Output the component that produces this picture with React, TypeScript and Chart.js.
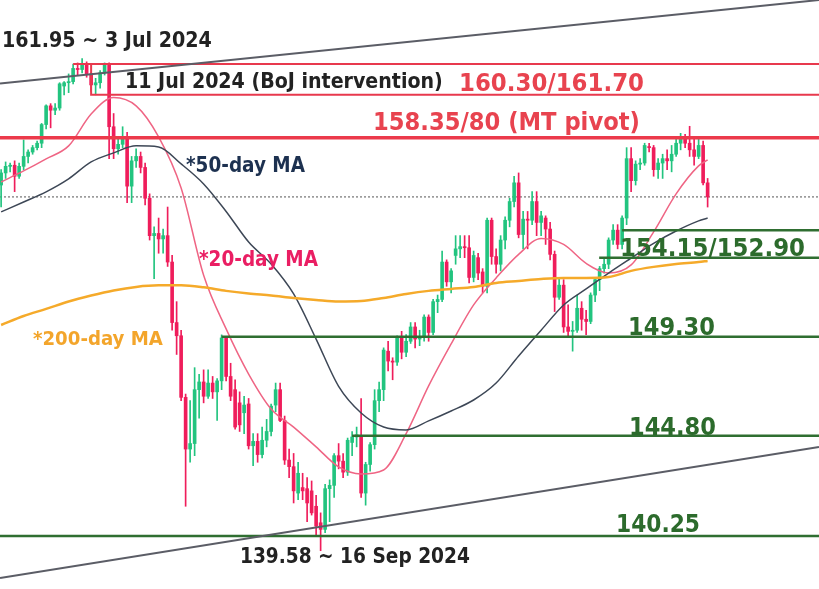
import React, { useEffect, useRef } from 'react';
import { Chart, registerables } from 'chart.js';

Chart.register(...registerables);

// ---- categories (trading days, 7 Jun 2024 – 16 Jan 2025) ----
const MONTH_DAYS: [string, number[]][] = [
  ['Jun', [7, 10, 11, 12, 13, 14, 17, 18, 19, 20, 21, 24, 25, 26, 27, 28]],
  ['Jul', [1, 2, 3, 4, 5, 8, 9, 10, 11, 12, 15, 16, 17, 18, 19, 22, 23, 24, 25, 26, 29, 30, 31]],
  ['Aug', [1, 2, 5, 6, 7, 8, 9, 12, 13, 14, 15, 16, 19, 20, 21, 22, 23, 26, 27, 28, 29, 30]],
  ['Sep', [2, 3, 4, 5, 6, 9, 10, 11, 12, 13, 16, 17, 18, 19, 20, 23, 24, 25, 26, 27, 30]],
  ['Oct', [1, 2, 3, 4, 7, 8, 9, 10, 11, 14, 15, 16, 17, 18, 21, 22, 23, 24, 25, 28, 29, 30, 31]],
  ['Nov', [1, 4, 5, 6, 7, 8, 11, 12, 13, 14, 15, 18, 19, 20, 21, 22, 25, 26, 27, 28, 29]],
  ['Dec', [2, 3, 4, 5, 6, 9, 10, 11, 12, 13, 16, 17, 18, 19, 20, 23, 24, 26, 27, 30, 31]],
  ['Jan', [2, 3, 6, 7, 8, 9, 10, 13, 14, 15, 16]],
];
const DATES: string[] = MONTH_DAYS.flatMap(([m, ds]) => ds.map((d) => `${d} ${m}`));

// ---- OHLC (USD/JPY daily) ----
const OPEN = [
  156.2, 156.75, 157.05, 157.1, 156.6, 157.05, 157.5, 157.7, 157.9, 158.1, 158.95, 159.8, 159.6, 159.7, 160.7, 160.85,
  160.9, 161.5, 161.45, 161.7, 161.25, 160.75, 160.85, 161.3, 161.65, 158.85, 157.85, 158.05, 158.35, 156.15, 157.3, 157.5,
  157.0, 155.6, 153.9, 154.0, 153.75, 153.9, 152.7,
  149.95, 149.35, 146.55, 144.2, 144.45, 146.9, 147.25, 146.6, 147.2, 146.8, 147.3, 149.25, 147.5, 146.9, 146.3, 145.85,
  146.25, 144.35, 144.55, 143.95, 144.6, 145.0,
  146.2, 146.9, 145.5, 143.7, 143.4, 142.2, 142.45, 142.4, 142.3, 141.6, 140.85, 140.55, 142.4, 142.55, 143.9, 143.65,
  143.15, 144.5, 144.75, 144.8, 142.2,
  143.5, 144.4, 146.4, 146.9, 148.65, 148.2, 148.15, 149.3, 148.6, 149.1, 149.75, 149.2, 149.3, 150.2, 149.5, 150.9,
  151.0, 152.7, 151.8, 153.0, 153.3, 153.4, 153.35,
  152.0, 152.9, 152.25, 151.6, 154.6, 152.95, 152.6, 153.7, 154.6, 155.45, 156.3, 153.95, 154.65, 154.6, 155.45, 154.5,
  154.7, 154.2, 153.05, 151.1, 151.65,
  149.75, 149.55, 149.6, 150.6, 150.1, 150.0, 151.2, 151.9, 152.4, 152.6, 153.7, 154.15, 153.5, 154.7, 157.4, 156.4,
  157.15, 157.2, 157.95, 157.9, 156.9,
  157.2, 157.4, 157.3, 157.6, 158.1, 158.4, 158.1, 157.8, 157.5, 158.0, 156.3,
];
const HIGH = [
  156.9, 157.25, 157.2, 157.3, 157.2, 158.25, 157.8, 158.0, 158.2, 159.0, 159.85, 159.9, 159.9, 160.85, 160.9, 161.25,
  161.7, 161.75, 161.95, 161.8, 161.3, 161.05, 161.4, 161.75, 161.75, 159.45, 158.4, 158.85, 158.6, 157.5, 157.85, 157.7,
  157.2, 155.8, 154.3, 154.7, 154.2, 155.2, 153.0,
  150.9, 149.6, 146.7, 146.4, 147.9, 147.6, 147.8, 147.8, 147.5, 147.4, 149.39, 149.3, 148.1, 147.35, 146.8, 146.6,
  146.5, 144.9, 144.9, 145.2, 145.55, 146.25,
  147.2, 147.2, 145.7, 144.2, 144.0, 143.6, 143.1, 142.9, 142.75, 142.1, 141.3, 142.6, 142.8, 144.0, 144.45, 144.0,
  144.7, 145.0, 145.2, 146.5, 143.6,
  144.5, 146.9, 147.25, 148.8, 149.1, 148.35, 149.35, 149.55, 149.4, 149.95, 149.95, 149.6, 150.3, 150.3, 151.0, 151.2,
  153.2, 152.8, 152.4, 153.9, 153.9, 153.9, 153.9,
  153.2, 153.1, 152.4, 154.7, 154.7, 153.3, 153.9, 154.75, 155.6, 156.6, 156.75, 155.0, 155.0, 155.9, 155.9, 155.0,
  154.8, 154.5, 153.2, 152.0, 151.9,
  150.75, 150.0, 151.2, 150.9, 150.5, 151.3, 152.0, 152.5, 152.9, 153.8, 154.4, 154.4, 154.8, 157.9, 157.9, 157.3,
  157.4, 158.1, 158.1, 158.0, 157.4,
  157.6, 157.8, 158.0, 158.4, 158.55, 158.5, 158.87, 158.3, 158.3, 158.2, 156.5,
];
const LOW = [
  155.2, 156.5, 156.8, 155.9, 156.5, 156.9, 157.2, 157.6, 157.8, 157.9, 158.75, 158.8, 159.4, 159.6, 160.3, 160.4,
  160.8, 161.2, 161.3, 161.1, 160.45, 160.3, 160.6, 161.2, 157.4, 157.4, 157.6, 157.9, 155.4, 155.4, 157.0, 156.75,
  155.3, 153.7, 151.95, 153.1, 153.1, 152.5, 149.6,
  148.5, 146.4, 141.6, 143.6, 143.9, 145.6, 146.3, 146.5, 146.5, 145.5, 146.9, 147.3, 146.4, 145.1, 145.0, 144.9,
  144.2, 143.45, 143.6, 143.8, 144.3, 144.8,
  145.9, 145.45, 143.5, 142.9, 141.75, 141.9, 141.9, 140.9, 141.2, 140.3, 139.58, 140.4, 140.9, 142.0, 143.3, 142.9,
  143.0, 143.9, 144.3, 142.0, 141.65,
  143.2, 144.2, 145.9, 146.4, 147.75, 147.35, 148.0, 148.3, 148.4, 149.0, 148.8, 148.9, 149.1, 149.1, 149.4, 150.4,
  150.9, 151.6, 151.3, 152.6, 152.9, 152.9, 151.75,
  151.8, 151.9, 151.3, 151.3, 152.6, 152.2, 152.3, 153.3, 154.3, 155.2, 153.8, 153.3, 153.3, 154.4, 153.9, 153.9,
  153.5, 152.8, 150.45, 151.0, 149.5,
  149.3, 148.65, 149.5, 149.6, 149.4, 149.9, 150.9, 151.4, 152.2, 152.4, 153.5, 153.3, 153.3, 154.4, 155.9, 156.2,
  156.9, 157.1, 157.7, 156.6, 156.5,
  156.5, 156.9, 156.8, 157.5, 157.8, 157.9, 157.5, 157.1, 157.4, 156.2, 155.2,
];
const CLOSE = [
  156.75, 157.05, 157.1, 156.6, 157.05, 157.5, 157.7, 157.9, 158.1, 158.95, 159.8, 159.6, 159.7, 160.8, 160.85, 160.9,
  161.5, 161.45, 161.7, 161.25, 160.75, 160.85, 161.3, 161.65, 158.85, 157.85, 158.05, 158.35, 156.15, 157.3, 157.5, 157.0,
  155.6, 153.9, 154.0, 153.75, 153.9, 152.7, 149.95,
  149.35, 146.55, 144.2, 144.45, 146.9, 147.25, 146.6, 147.2, 146.8, 147.3, 149.25, 147.5, 146.6, 145.2, 145.3, 146.2,
  144.35, 144.55, 143.95, 144.6, 145.0, 146.15,
  146.9, 145.5, 143.7, 143.4, 142.3, 143.1, 142.3, 141.75, 141.3, 140.7, 140.55, 142.4, 142.55, 143.9, 143.65, 143.15,
  144.6, 144.75, 144.85, 142.2, 143.5,
  144.4, 146.4, 146.9, 148.7, 148.2, 148.15, 149.3, 148.6, 149.1, 149.75, 149.2, 149.3, 150.2, 149.5, 150.9, 151.0,
  152.7, 151.8, 152.3, 153.3, 153.4, 153.35, 152.0,
  153.0, 152.2, 151.6, 154.6, 152.95, 152.6, 153.7, 154.6, 155.45, 156.3, 153.95, 154.65, 154.6, 155.45, 154.5, 154.8,
  154.2, 153.05, 151.1, 151.65, 149.75,
  149.55, 149.6, 150.6, 150.1, 150.0, 151.2, 151.9, 152.4, 152.6, 153.7, 154.15, 153.5, 154.7, 157.4, 156.4, 157.15,
  157.2, 158.0, 157.9, 156.9, 157.2,
  157.4, 157.3, 157.6, 158.1, 158.4, 158.1, 157.8, 157.5, 158.0, 156.3, 155.66,
];

// ---- moving averages, read at these candle indices ----
const MA_INDEX = [0, 5, 10, 15, 20, 25, 30, 35, 40, 45, 50, 55, 60, 65, 70, 75, 80, 85, 90, 95, 100, 105, 110, 115, 120, 125, 130, 135, 140, 145, 150, 155, 157];
const MA20 = [156.34, 156.84, 157.39, 157.98, 159.43, 160.18, 159.8, 158.39, 156.07, 152.1, 149.66, 147.61, 146.02, 145.2, 144.3, 143.39, 143.07, 143.25, 144.9, 147.07, 148.98, 150.75, 151.98, 153.05, 153.77, 153.5, 152.64, 152.2, 152.57, 154.07, 155.8, 157.07, 157.34];
const MA50 = [154.98, 155.43, 155.89, 156.48, 157.25, 157.66, 157.98, 157.93, 157.16, 156.25, 155.0, 153.61, 152.61, 151.25, 149.2, 147.05, 145.84, 145.2, 145.07, 145.48, 145.93, 146.43, 147.2, 148.43, 149.6, 150.75, 151.48, 152.2, 152.88, 153.55, 154.11, 154.57, 154.7];
const MA200 = [149.84, 150.25, 150.57, 150.91, 151.18, 151.41, 151.57, 151.64, 151.64, 151.55, 151.39, 151.27, 151.18, 151.07, 150.98, 150.91, 150.93, 151.07, 151.25, 151.39, 151.48, 151.57, 151.75, 151.84, 151.93, 151.98, 151.98, 152.02, 152.3, 152.48, 152.61, 152.7, 152.75];

// ---- horizontal levels ----
const RED_LEVELS = [161.7, 160.3, 158.35];
const RED_LEVEL_START = [16, 20, -0.25];
const GREEN_LEVELS = [154.15, 152.9, 149.3, 144.8, 140.25];
const GREEN_LEVEL_START = [138, 132.9, 49, 78, -0.25];
const LAST_PRICE = 155.66;

// ---- trend channel (value at left / right edge) ----
const CHANNEL_UPPER = [160.82, 164.61];
const CHANNEL_LOWER = [138.34, 144.3];

// ---- axis ranges ----
const X_MIN = -0.25;
const X_MAX = 181.75;
const Y_MIN = 137.84;
const Y_MAX = 164.61;

const FONT = '"DejaVu Sans Condensed", "DejaVu Sans", sans-serif';

type Label = { text: string; i: number; p: number; w: number; color: string };
const LABELS: Label[] = [
  { text: '161.95 ~ 3 Jul 2024', i: 0.19, p: 162.48, w: 210, color: '#222222' },
  { text: '11 Jul 2024 (BoJ intervention)', i: 27.53, p: 160.61, w: 318, color: '#222222' },
  { text: '160.30/161.70', i: 101.75, p: 160.48, w: 185, color: '#e8434f' },
  { text: '158.35/80 (MT pivot)', i: 82.64, p: 158.7, w: 267, color: '#e8434f' },
  { text: '*50-day MA', i: 41.08, p: 156.8, w: 119, color: '#1d3150' },
  { text: '*20-day MA', i: 43.97, p: 152.52, w: 119, color: '#ea1e63' },
  { text: '*200-day MA', i: 7.08, p: 148.93, w: 130, color: '#f3a52b' },
  { text: '154.15/152.90', i: 137.53, p: 152.98, w: 185, color: '#2c6b2c' },
  { text: '149.30', i: 139.31, p: 149.39, w: 87, color: '#2c6b2c' },
  { text: '144.80', i: 139.53, p: 144.84, w: 87, color: '#2c6b2c' },
  { text: '140.25', i: 136.64, p: 140.43, w: 84, color: '#2c6b2c' },
  { text: '139.58 ~ 16 Sep 2024', i: 53.08, p: 139.02, w: 230, color: '#222222' },
];

const UP = '#22c47f';
const DOWN = '#ef1d5b';

const labelPlugin = {
  id: 'textLabels',
  afterDatasetsDraw(chart: any) {
    const { ctx, scales } = chart;
    const xs = scales.x;
    const ys = scales.y;
    LABELS.forEach((l) => {
      ctx.save();
      ctx.font = `bold 20px ${FONT}`;
      const m = ctx.measureText(l.text).width;
      const size = (20 * l.w) / m;
      ctx.font = `bold ${size.toFixed(2)}px ${FONT}`;
      ctx.fillStyle = l.color;
      ctx.textBaseline = 'alphabetic';
      ctx.textAlign = 'left';
      ctx.fillText(l.text, xs.getPixelForValue(l.i), ys.getPixelForValue(l.p));
      ctx.restore();
    });
  },
};

function seg(x0: number, v: number) {
  return [
    { x: x0, y: v },
    { x: X_MAX, y: v },
  ];
}

export default function App() {
  const ref = useRef<HTMLCanvasElement | null>(null);

  useEffect(() => {
    if (!ref.current) return;
    const colors = OPEN.map((o, i) => (CLOSE[i] >= o ? UP : DOWN));
    const lineBase = { type: 'line' as const, pointRadius: 0, fill: false, tension: 0 };

    const datasets: any[] = [];

    // trend channel
    datasets.push({
      ...lineBase,
      data: [{ x: X_MIN, y: CHANNEL_UPPER[0] }, { x: X_MAX, y: CHANNEL_UPPER[1] }],
      borderColor: '#5b5d66',
      borderWidth: 2,
      order: 0,
    });
    datasets.push({
      ...lineBase,
      data: [{ x: X_MIN, y: CHANNEL_LOWER[0] }, { x: X_MAX, y: CHANNEL_LOWER[1] }],
      borderColor: '#5b5d66',
      borderWidth: 2,
      order: 0,
    });

    // red levels
    datasets.push({ ...lineBase, data: seg(RED_LEVEL_START[0], RED_LEVELS[0]), borderColor: '#e8394d', borderWidth: 2, order: 0 });
    datasets.push({
      ...lineBase,
      data: [{ x: RED_LEVEL_START[1], y: RED_LEVELS[0] }, ...seg(RED_LEVEL_START[1], RED_LEVELS[1])],
      borderColor: '#e8394d',
      borderWidth: 2,
      order: 0,
    });
    datasets.push({ ...lineBase, data: seg(RED_LEVEL_START[2], RED_LEVELS[2]), borderColor: '#ec3a4b', borderWidth: 3.5, order: 0 });

    // green levels
    GREEN_LEVELS.forEach((v, k) => {
      datasets.push({ ...lineBase, data: seg(GREEN_LEVEL_START[k], v), borderColor: '#2f6e31', borderWidth: 2.5, order: 0 });
    });

    // moving averages
    const maData = (vals: number[]) => MA_INDEX.map((x, k) => ({ x, y: vals[k] }));
    datasets.push({ ...lineBase, data: maData(MA200), borderColor: '#f5aa2a', borderWidth: 2.5, cubicInterpolationMode: 'monotone', order: 1 });
    datasets.push({ ...lineBase, data: maData(MA50), borderColor: '#3d4756', borderWidth: 1.5, cubicInterpolationMode: 'monotone', order: 1 });
    datasets.push({ ...lineBase, data: maData(MA20), borderColor: '#ef6584', borderWidth: 1.5, cubicInterpolationMode: 'monotone', order: 1 });

    // candle bodies
    datasets.push({
      type: 'bar',
      data: DATES.map((_, i) => ({ x: i, y: [OPEN[i], CLOSE[i]] })),
      backgroundColor: colors,
      borderWidth: 0,
      barThickness: 3,
      minBarLength: 1,
      grouped: false,
      order: 2,
    });
    // wicks
    datasets.push({
      type: 'bar',
      data: DATES.map((_, i) => ({ x: i, y: [LOW[i], HIGH[i]] })),
      backgroundColor: colors,
      borderWidth: 0,
      barThickness: 1,
      grouped: false,
      order: 3,
    });

    // last-price dotted line
    datasets.push({
      ...lineBase,
      data: seg(X_MIN, LAST_PRICE),
      borderColor: '#555555',
      borderWidth: 1,
      borderDash: [2, 2],
      order: 4,
    });

    const chart = new Chart(ref.current, {
      type: 'bar',
      data: { labels: DATES, datasets },
      options: {
        animation: false,
        responsive: false,
        devicePixelRatio: 1,
        layout: { padding: 0 },
        plugins: { legend: { display: false }, tooltip: { enabled: false } },
        scales: {
          x: { type: 'linear', min: X_MIN, max: X_MAX, display: false, offset: false },
          y: { type: 'linear', min: Y_MIN, max: Y_MAX, display: false, beginAtZero: false },
        },
      },
      plugins: [labelPlugin],
    } as any);

    return () => chart.destroy();
  }, []);

  return (
    <div style={{ position: 'fixed', left: 0, top: 0, width: 819, height: 589, background: '#ffffff' }}>
      <canvas ref={ref} width={819} height={589} style={{ display: 'block' }} />
    </div>
  );
}
